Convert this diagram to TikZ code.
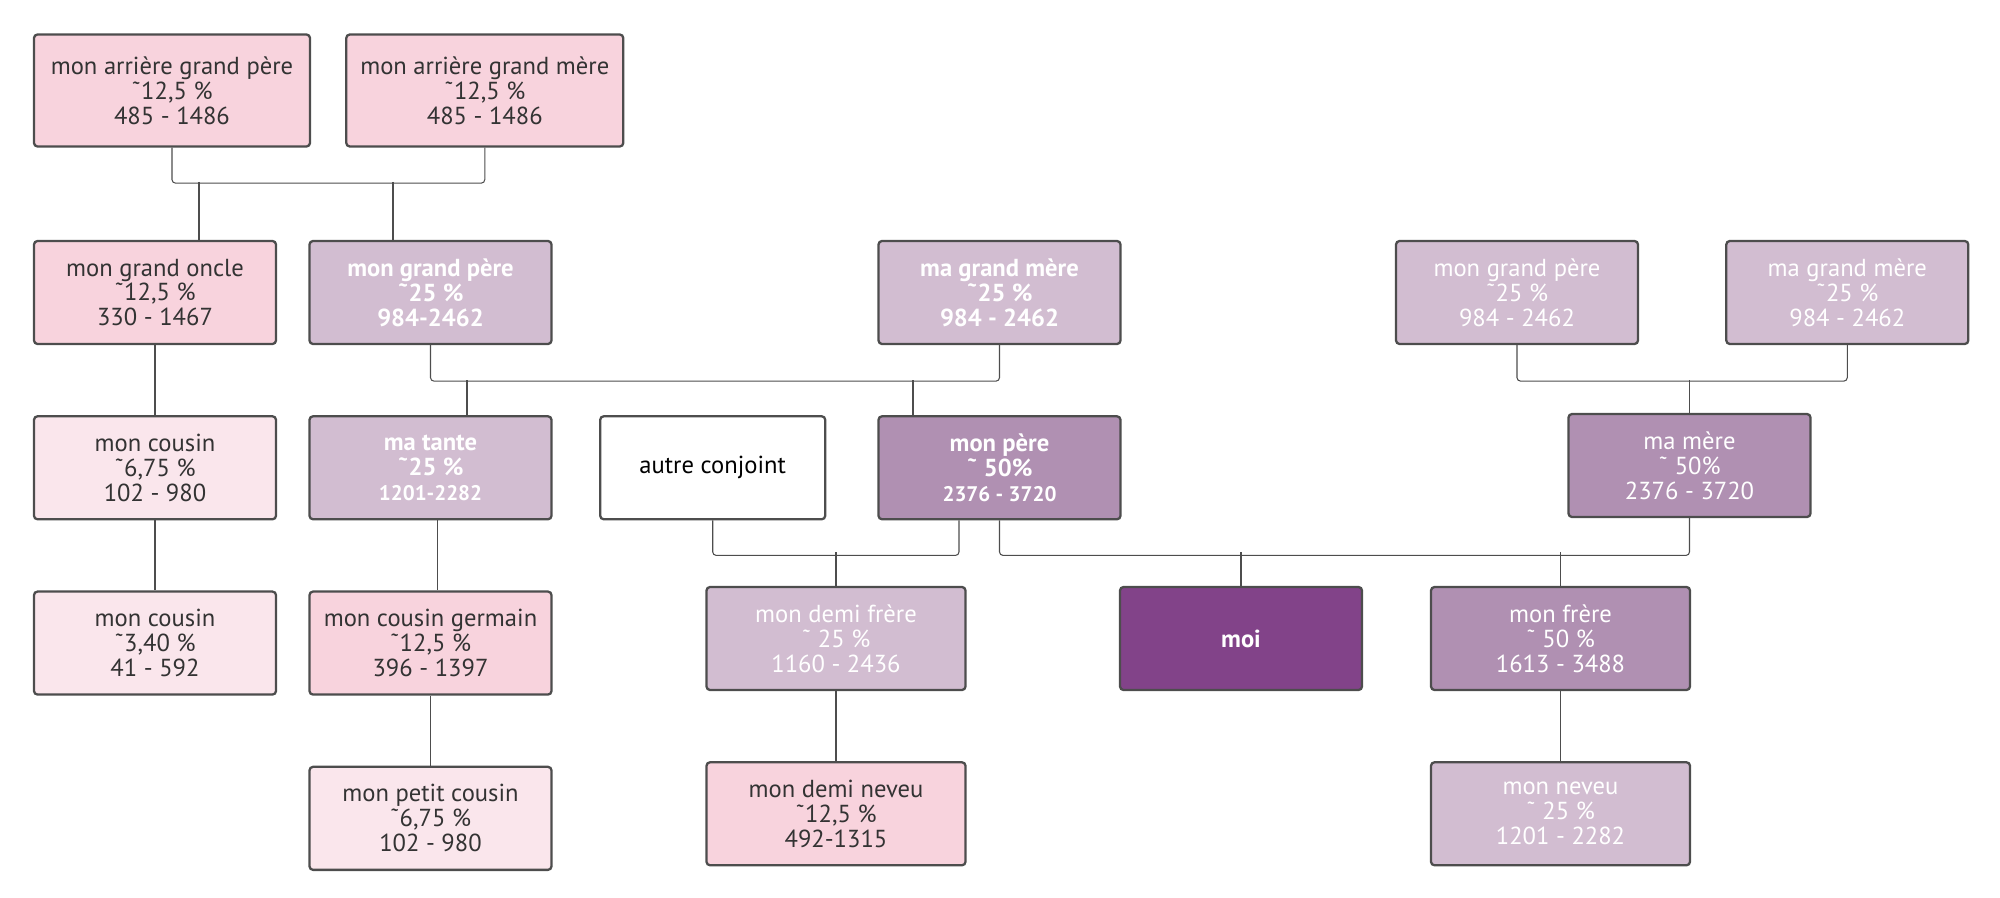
\documentclass[tikz,border=0pt]{standalone}
\usepackage{fontspec}
\setmainfont{PT Sans}
\usetikzlibrary{positioning}
\definecolor{Rose}{HTML}{F8D3DD}
\definecolor{RosePale}{HTML}{FAE6EC}
\definecolor{Lilas}{HTML}{D2BDD1}
\definecolor{Mauve}{HTML}{B090B2}
\definecolor{Prune}{HTML}{824389}
\definecolor{Bord}{HTML}{4D4D4D}

\begin{document}
\begin{tikzpicture}[node distance=1.4cm, every node/.style={font=\fontsize{14}{14.2}\selectfont}]
\tikzstyle{box}=[draw=Bord, line width=1.3pt, rounded corners=2pt, minimum width=4.84cm, minimum height=2.06cm, align=center, text=black!80]
\tikzstyle{boxRose}=[box, fill=Rose]
\tikzstyle{boxPale}=[box, fill=RosePale]
\tikzstyle{boxLilas}=[box, fill=Lilas, text=white]
\tikzstyle{boxMauve}=[box, fill=Mauve, text=white]
\tikzstyle{gras}=[font=\fontsize{14}{14.2}\selectfont\bfseries]
\tikzstyle{link}=[draw=Bord, line width=0.6pt, rounded corners=2pt]
\useasboundingbox (0,0) rectangle (40,-17.96);
% arriere grands parents
\node[boxRose, minimum width=5.52cm, minimum height=2.24cm] (agp) at (3.44,-1.81) {mon arrière grand père\\˜12,5 \%\\485 - 1486};
\node[boxRose, minimum width=5.54cm, minimum height=2.24cm, right=0.68cm of agp] (agm) {mon arrière grand mère\\˜12,5 \%\\485 - 1486};
% grands parents
\node[boxRose] (oncle) at (3.10,-5.85) {mon grand oncle\\˜12,5 \%\\330 - 1467};
\node[boxLilas, gras] (gpp) at (8.61,-5.85) {mon grand père\\˜25 \%\\984-2462};
\node[boxLilas, gras] (gmp) at (19.99,-5.85) {ma grand mère\\˜25 \%\\984 - 2462};
\node[boxLilas] (gpm) at (30.34,-5.85) {mon grand père\\˜25 \%\\984 - 2462};
\node[boxLilas, right=1.72cm of gpm] (gmm) {ma grand mère\\˜25 \%\\984 - 2462};
% parents
\node[boxPale, below=of oncle] (cousin) {mon cousin\\˜6,75 \%\\102 - 980};
\node[boxLilas, gras, below=of gpp] (tante) {ma tante\\˜25 \%\\{\fontsize{12}{13}\selectfont 1201-2282}};
\node[boxMauve, gras, below=of gmp] (pere) {mon père\\˜ 50\%\\{\fontsize{12}{13}\selectfont 2376 - 3720}};
\node[box, fill=white, text=black, minimum width=4.5cm, left=1.02cm of pere] (autre) {autre conjoint};
\node[boxMauve] (mere) at (33.79,-9.31) {ma mère\\˜ 50\%\\2376 - 3720};
% enfants
\node[boxPale, below=of cousin] (cousin2) {mon cousin\\˜3,40 \%\\41 - 592};
\node[boxRose, below=of tante] (germain) {mon cousin germain\\˜12,5 \%\\396 - 1397};
\node[boxLilas, minimum width=5.18cm] (demifrere) at (16.72,-12.77) {mon demi frère\\˜ 25 \%\\1160 - 2436};
\node[box, fill=Prune, text=white, gras] (moi) at (24.82,-12.77) {moi};
\node[boxMauve, minimum width=5.18cm] (frere) at (31.21,-12.77) {mon frère\\˜ 50 \%\\1613 - 3488};
% petits enfants
\node[boxPale, below=of germain] (petit) {mon petit cousin\\˜6,75 \%\\102 - 980};
\node[boxRose, minimum width=5.18cm, below=of demifrere] (demineveu) {mon demi neveu\\˜12,5 \%\\492-1315};
\node[boxLilas, minimum width=5.18cm, below=of frere] (neveu) {mon neveu\\˜ 25 \%\\1201 - 2282};
% liens
\coordinate (j1) at (3.98,-3.64);
\coordinate (j2) at (7.86,-3.64);
\coordinate (j3) at (9.34,-7.6);
\coordinate (j4) at (18.26,-7.6);
\coordinate (j6) at (0,-11.04);
\draw[link] (agp.south) -- ++(0,-0.71) -| (agm.south);
\draw[link] (j1) -- (j1 |- oncle.north);
\draw[link] (j2) -- (j2 |- gpp.north);
\draw[link] (gpp.south) -- ++(0,-0.72) -| (gmp.south);
\draw[link] (j3) -- (j3 |- tante.north);
\draw[link] (j4) -- (j4 |- pere.north);
\draw[link] (gpm.south) -- ++(0,-0.72) -| (gmm.south);
\draw[link] (mere.north) -- (mere.north |- j3);
\draw[link] (autre.south) -- ++(0,-0.7) -| ([xshift=-0.81cm]pere.south);
\draw[link] (pere.south) -- ++(0,-0.7) -| (mere.south);
\draw[link] (demifrere.north) -- (demifrere.north |- j6);
\draw[link] (moi.north) -- (moi.north |- j6);
\draw[link] (frere.north) -- (frere.north |- j6);
\draw[link] (oncle) -- (cousin);
\draw[link] (cousin) -- (cousin2);
\draw[link] ([xshift=0.14cm]tante.south) -- ([xshift=0.14cm]germain.north);
\draw[link] (germain) -- (petit);
\draw[link] (demifrere) -- (demineveu);
\draw[link] (frere) -- (neveu);
\end{tikzpicture}
\end{document}
